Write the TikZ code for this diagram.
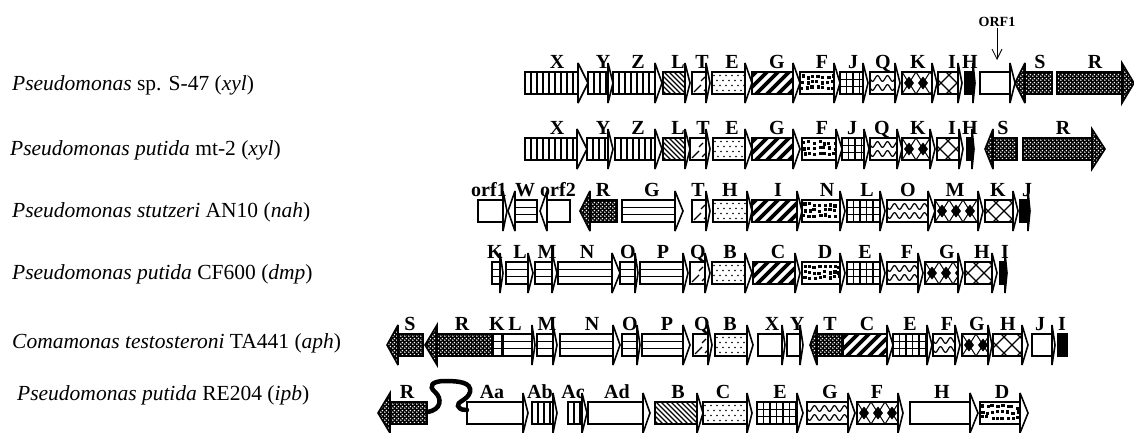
\documentclass[tikz,border=0pt]{standalone}
\usepackage{fontspec}
\setmainfont{Liberation Serif}
\usetikzlibrary{arrows.meta,patterns}
\newcount\gcount
\pgfdeclarepatternformonly{wdots}{\pgfqpoint{0pt}{0pt}}{\pgfqpoint{4pt}{4pt}}{\pgfqpoint{4pt}{4pt}}{%
  \pgfpathcircle{\pgfqpoint{1pt}{1pt}}{1.0pt}%
  \pgfpathcircle{\pgfqpoint{3pt}{3pt}}{1.0pt}%
  \pgfusepath{fill}}
\tikzset{
  genebox/.style={line width=1.6pt, line join=miter, miter limit=4},
  glabel/.style={font=\fontsize{20}{20}\selectfont\bfseries, anchor=base, inner sep=0pt},
  species/.style={font=\fontsize{21.5}{24}\selectfont, anchor=base west, inner sep=0pt},
  patline/.style={line width=1.3pt},
}
\newcommand\bodyclip{\clip (\bxa,\gy-11) rectangle (\bxb,\gy+11);}
\newcommand\gpatwhite{}
\newcommand\gpatblack{\fill[black] \gpath;}
\newcommand\gpatdark{\fill[black] \gpath; \fill[pattern=wdots, pattern color=white] \gpath;}
\newcommand\gpatvs{\begin{scope}\bodyclip
  \foreach \xx in {6,12,...,120} \draw[patline] (\bxa+\xx,\gy-12) -- (\bxa+\xx,\gy+12);
  \end{scope}}
\newcommand\gpaths{\begin{scope}\bodyclip
  \draw[patline] (\bxa,\gy-3.7) -- (\bxb,\gy-3.7) (\bxa,\gy+3.7) -- (\bxb,\gy+3.7);
  \end{scope}}
\newcommand\gpatnw{\begin{scope}\bodyclip
  \foreach \xx in {-30,-25,...,120} \draw[line width=1.1pt] (\bxa+\xx,\gy-12) -- ++(24,24);
  \end{scope}}
\newcommand\gpattm{\begin{scope}\bodyclip
  \draw[patline] (\bxa+2,\gy+9) -- (\bxa+9,\gy+2) (\bxa+9,\gy-2) -- (\bxa+13,\gy-6) (\bxa+12,\gy+8) -- (\bxa+16,\gy+4);
  \end{scope}}
\newcommand\gpatdots{\begin{scope}\bodyclip
  \foreach \xx in {0,6,...,120} {\foreach \yy/\oo in {-7.5/0,-2.5/3,2.5/0,7.5/3} {\fill (\bxa+\xx+\oo+2,\gy+\yy) circle (0.95pt);}}
  \end{scope}}
\newcommand\gpatsq{\begin{scope}\bodyclip
  \foreach \xx in {0,5,...,120} {\foreach \yy in {-9,-3.5,2} {\pgfmathsetmacro\rx{\bxa+\xx+2.5*rnd}\pgfmathsetmacro\ry{\gy+\yy+2.5*rnd}\fill (\rx,\ry) rectangle ++(3.2,3.2);}}
  \end{scope}}
\newcommand\gpatgrid{\begin{scope}\bodyclip
  \foreach \xx in {6.5,13,...,120} \draw[patline] (\bxa+\xx,\gy-12) -- (\bxa+\xx,\gy+12);
  \draw[patline] (\bxa,\gy-3.7) -- (\bxb,\gy-3.7) (\bxa,\gy+3.7) -- (\bxb,\gy+3.7);
  \end{scope}}
\newcommand\gpatwave{\begin{scope}\bodyclip
  \foreach \yy in {-4.5,4.5} \draw[line width=1.2pt] plot[domain=\bxa-2:\bxb+2,samples=60,smooth] (\x,{\gy+\yy+2.8*sin(36*(\x-\bxa))});
  \end{scope}}
\newcommand\gpatdia{\begin{scope}\bodyclip
  \foreach \xx in {7,21,...,120} {
    \fill (\bxa+\xx-5,\gy) -- (\bxa+\xx,\gy-6.5) -- (\bxa+\xx+5,\gy) -- (\bxa+\xx,\gy+6.5) -- cycle;
    \draw[line width=1pt] (\bxa+\xx-7,\gy-11) -- (\bxa+\xx+7,\gy+11) (\bxa+\xx-7,\gy+11) -- (\bxa+\xx+7,\gy-11);
  }
  \end{scope}}
\newcommand\gpatcross{\begin{scope}\bodyclip
  \foreach \xx in {-40,-24,...,120} \draw[line width=1.2pt] (\bxa+\xx,\gy-11) -- ++(22,22) (\bxa+\xx,\gy+11) -- ++(22,-22);
  \end{scope}}
\newcommand\gpatthick{\begin{scope}\bodyclip
  \foreach \xx in {-30,-19,...,120} \draw[line width=3.6pt] (\bxa+\xx,\gy+12) -- ++(24,-24);
  \end{scope}}
% #1 x1, #2 x2, #3 y, #4 dir r/l/n, #5 pattern, #6 label, #7 label x, #8 head length
\newcommand\gene[8]{%
  \global\advance\gcount by 1\relax
  \pgfmathsetmacro\ga{#1}%
  \pgfmathsetmacro\gb{#2}%
  \pgfmathsetmacro\gy{#3}%
  \pgfmathsetmacro\gh{#8}%
  \if#4r%
    \pgfmathsetmacro\bxa{\ga}\pgfmathsetmacro\bxb{\gb-\gh}%
    \def\gpath{(\ga,\gy-11) -- (\bxb,\gy-11) -- (\bxb,\gy-20) -- (\gb,\gy) -- (\bxb,\gy+20) -- (\bxb,\gy+11) -- (\ga,\gy+11) -- cycle}%
    \def\gsep{(\bxb,\gy-11) -- (\bxb,\gy+11)}%
  \else\if#4l%
    \pgfmathsetmacro\bxa{\ga+\gh}\pgfmathsetmacro\bxb{\gb}%
    \def\gpath{(\gb,\gy-11) -- (\bxa,\gy-11) -- (\bxa,\gy-20) -- (\ga,\gy) -- (\bxa,\gy+20) -- (\bxa,\gy+11) -- (\gb,\gy+11) -- cycle}%
    \def\gsep{(\bxa,\gy-11) -- (\bxa,\gy+11)}%
  \else
    \pgfmathsetmacro\bxa{\ga}\pgfmathsetmacro\bxb{\gb}%
    \def\gpath{(\ga,\gy-11) rectangle (\gb,\gy+11)}%
    \def\gsep{(\ga,\gy) -- (\ga,\gy)}%
  \fi\fi
  \fill[white] \gpath;
  \csname gpat#5\endcsname
  \draw[genebox] \gpath;
  \draw[genebox] \gsep;
  \node[glabel] (g\the\gcount) at (#7,\gy-15) {#6};
}
\begin{document}
\begin{tikzpicture}[x=1pt,y=-1pt]
\pgfmathsetseed{7}
\useasboundingbox (0,0) rectangle (1134,432);
% species labels
\node[species] (sp1) at (12,90) {\textit{Pseudomonas} sp. S-47 (\textit{xyl})};
\node[species] (sp2) at (10,155) {\textit{Pseudomonas putida} mt-2 (\textit{xyl})};
\node[species] (sp3) at (12,217) {\textit{Pseudomonas stutzeri} AN10 (\textit{nah})};
\node[species] (sp4) at (12,279) {\textit{Pseudomonas putida} CF600 (\textit{dmp})};
\node[species] (sp5) at (12,348) {\textit{Comamonas testosteroni} TA441 (\textit{aph})};
\node[species] (sp6) at (17,400) {\textit{Pseudomonas putida} RE204 (\textit{ipb})};
% row 1
\gene{525}{588}{83}{r}{vs}{X}{557}{10}
\gene{588}{613}{83}{r}{vs}{Y}{603}{5}
\gene{613}{662}{83}{r}{vs}{Z}{638}{7}
\gene{663}{690}{83}{r}{nw}{L}{678}{5}
\gene{692}{710}{83}{r}{tm}{T}{702}{4}
\gene{712}{752}{83}{r}{dots}{E}{732}{7}
\gene{752}{800}{83}{r}{thick}{G}{777}{7}
\gene{800}{840}{83}{r}{sq}{F}{822}{6}
\gene{840}{868}{83}{r}{grid}{J}{853}{5}
\gene{870}{900}{83}{r}{wave}{Q}{883}{5}
\gene{902}{937}{83}{r}{dia}{K}{918}{5}
\gene{938}{962}{83}{r}{cross}{I}{952}{4}
\gene{965}{975}{83}{r}{black}{H}{970}{2}
\gene{980}{1015}{83}{r}{white}{}{997}{5}
\gene{1015}{1052}{83}{l}{dark}{S}{1040}{10}
\gene{1057}{1134}{83}{r}{dark}{R}{1095}{12}
\node[font=\fontsize{14}{14}\selectfont\bfseries, inner sep=1pt] (orflab) at (997,22) {ORF1};
\coordinate (orftip) at (997,60);
\draw[line width=0.8pt, -{Straight Barb[length=10pt,width=10pt]}] (orflab.south) -- (orftip);
% row 2
\gene{525}{587}{149}{r}{vs}{X}{557}{10}
\gene{587}{613}{149}{r}{vs}{Y}{603}{5}
\gene{615}{662}{149}{r}{vs}{Z}{638}{7}
\gene{663}{690}{149}{r}{nw}{L}{678}{5}
\gene{690}{710}{149}{r}{tm}{T}{703}{4}
\gene{713}{752}{149}{r}{dots}{E}{732}{7}
\gene{752}{800}{149}{r}{thick}{G}{777}{7}
\gene{802}{842}{149}{r}{sq}{F}{822}{6}
\gene{842}{869}{149}{r}{grid}{J}{852}{5}
\gene{870}{902}{149}{r}{wave}{Q}{882}{5}
\gene{902}{935}{149}{r}{dia}{K}{918}{5}
\gene{937}{963}{149}{r}{cross}{I}{952}{4}
\gene{967}{974}{149}{r}{black}{H}{970}{2}
\gene{985}{1017}{149}{l}{dark}{S}{1003}{8}
\gene{1023}{1105}{149}{r}{dark}{R}{1063}{13}
% row 3
\gene{478}{507}{211}{r}{white}{orf1}{489}{4}
\gene{508}{537}{211}{l}{hs}{W}{525}{7}
\gene{540}{570}{211}{l}{white}{orf2}{558}{7}
\gene{580}{617}{211}{l}{dark}{R}{603}{10}
\gene{622}{683}{211}{r}{hs}{G}{652}{8}
\gene{692}{710}{211}{r}{tm}{T}{698}{4}
\gene{713}{752}{211}{r}{dots}{H}{730}{5}
\gene{752}{802}{211}{r}{thick}{I}{778}{5}
\gene{802}{845}{211}{r}{sq}{N}{827}{5}
\gene{847}{885}{211}{r}{grid}{L}{867}{5}
\gene{887}{935}{211}{r}{wave}{O}{908}{7}
\gene{935}{983}{211}{r}{dia}{M}{955}{5}
\gene{985}{1018}{211}{r}{cross}{K}{998}{5}
\gene{1020}{1030}{211}{r}{black}{J}{1027}{2}
% row 4
\gene{492}{503}{273}{r}{hs}{K}{495}{3}
\gene{506}{533}{273}{r}{hs}{L}{520}{5}
\gene{535}{557}{273}{r}{hs}{M}{547}{5}
\gene{558}{620}{273}{r}{hs}{N}{587}{8}
\gene{620}{638}{273}{r}{hs}{O}{628}{3}
\gene{640}{688}{273}{r}{hs}{P}{663}{5}
\gene{690}{710}{273}{r}{tm}{Q}{698}{5}
\gene{712}{752}{273}{r}{dots}{B}{730}{7}
\gene{753}{800}{273}{r}{thick}{C}{778}{5}
\gene{802}{845}{273}{r}{sq}{D}{825}{5}
\gene{847}{885}{273}{r}{grid}{E}{865}{5}
\gene{887}{923}{273}{r}{wave}{F}{907}{5}
\gene{925}{963}{273}{r}{dia}{G}{947}{5}
\gene{965}{997}{273}{r}{cross}{H}{982}{5}
\gene{1000}{1007}{273}{r}{black}{I}{1005}{2}
% row 5
\gene{387}{423}{345}{l}{dark}{S}{410}{11}
\gene{425}{492}{345}{l}{dark}{R}{462}{12}
\gene{493}{502}{345}{n}{hs}{K}{497}{0}
\gene{503}{535}{345}{r}{hs}{L}{515}{3}
\gene{537}{557}{345}{r}{hs}{M}{547}{4}
\gene{560}{620}{345}{r}{hs}{N}{592}{7}
\gene{622}{640}{345}{r}{hs}{O}{630}{3}
\gene{642}{690}{345}{r}{hs}{P}{667}{7}
\gene{693}{712}{345}{r}{tm}{Q}{702}{4}
\gene{715}{753}{345}{r}{dots}{B}{730}{6}
\gene{758}{785}{345}{r}{white}{X}{772}{3}
\gene{787}{803}{345}{r}{white}{Y}{797}{3}
\gene{810}{842}{345}{l}{dark}{T}{830}{7}
\gene{843}{893}{345}{r}{thick}{C}{867}{6}
\gene{893}{932}{345}{r}{grid}{E}{910}{5}
\gene{933}{960}{345}{r}{wave}{F}{947}{5}
\gene{962}{992}{345}{r}{dia}{G}{977}{4}
\gene{993}{1028}{345}{r}{cross}{H}{1008}{6}
\gene{1032}{1055}{345}{r}{white}{J}{1040}{3}
\gene{1058}{1067}{345}{n}{black}{I}{1062}{0}
% row 6
\gene{378}{427}{413}{l}{dark}{R}{407}{12}
\gene{467}{528}{413}{r}{white}{Aa}{492}{5}
\gene{532}{557}{413}{r}{vs}{Ab}{540}{4}
\gene{568}{587}{413}{r}{vs}{Ac}{573}{5}
\gene{588}{650}{413}{r}{white}{Ad}{617}{7}
\gene{655}{703}{413}{r}{nw}{B}{678}{6}
\gene{703}{752}{413}{r}{dots}{C}{723}{5}
\gene{757}{803}{413}{r}{grid}{E}{780}{6}
\gene{807}{855}{413}{r}{wave}{G}{830}{7}
\gene{857}{903}{413}{r}{dia}{F}{877}{5}
\gene{910}{978}{413}{r}{white}{H}{942}{8}
\gene{980}{1028}{413}{r}{sq}{D}{1002}{8}
\coordinate (ropeA) at (427,412);
\coordinate (ropeB) at (467,410);
\draw[line width=4.5pt, line cap=round] (ropeA) .. controls (442,410) and (442,398) .. (435,392) .. controls (428,386) and (432,381) .. (445,381) .. controls (458,381) and (472,382) .. (470,392) .. controls (468,400) and (456,402) .. (458,406) .. controls (460,410) and (464,410) .. (ropeB);
\end{tikzpicture}
\end{document}
